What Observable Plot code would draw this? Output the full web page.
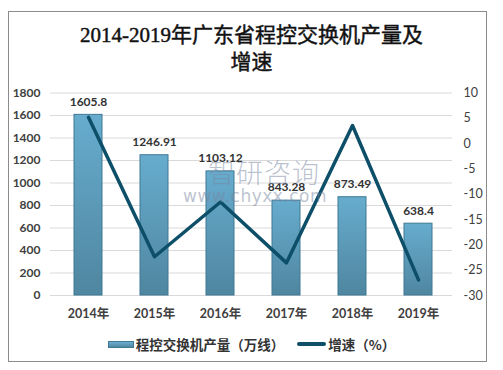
<!DOCTYPE html>
<html><head><meta charset="utf-8">
<script src="https://cdn.jsdelivr.net/npm/d3@7"></script>
<script src="https://cdn.jsdelivr.net/npm/@observablehq/plot@0.6"></script>
<style>
body{margin:0;background:#fff;}
#wrap{position:relative;width:503px;height:370px;overflow:hidden;font-family:Lato,"Noto Sans CJK SC",sans-serif;}
#frame{position:absolute;left:8px;top:11px;width:479px;height:351px;border:1px solid #8c8c8c;box-sizing:border-box;}
#title{position:absolute;left:0;width:503px;top:22px;text-align:center;font-family:"Liberation Serif","Noto Sans CJK SC",serif;font-weight:400;-webkit-text-stroke:0.45px #111;font-size:21px;line-height:27px;color:#111;}
#chart{position:absolute;left:0;top:0;}
#wm1{position:absolute;left:208px;top:152px;font-family:"Noto Sans CJK SC",sans-serif;font-weight:300;font-size:27px;color:rgba(120,134,160,0.5);letter-spacing:1px;}
#wm2{position:absolute;left:183px;top:186px;font-family:"DejaVu Sans",sans-serif;font-size:17px;color:rgba(120,134,160,0.5);letter-spacing:0.5px;}
#legend{position:absolute;top:334px;left:0;width:503px;display:flex;justify-content:center;align-items:center;font-family:"Noto Sans CJK SC",sans-serif;font-weight:700;font-size:13.5px;color:#333;}
.sw1{width:26px;height:7px;background:linear-gradient(#6db0d2,#4f86a0);border:1px solid #3f7893;box-sizing:border-box;margin-right:2px;}
.sw2{width:29px;height:4px;background:#0d4f68;border-radius:2px;margin-right:2px;margin-left:13px;}
</style></head>
<body>
<div id="wrap">
  <div id="frame"></div>
  <div id="title">2014-2019年广东省程控交换机产量及<br>增速</div>
  <div id="chart"></div>
  <div id="wm1">智研咨询</div>
  <div id="wm2">www.chyxx.com</div>
  <div id="legend"><div class="sw1"></div><span>程控交换机产量（万线）</span><div class="sw2"></div><span>增速（%）</span></div>
</div>
<script>
const years = ["2014年","2015年","2016年","2017年","2018年","2019年"];
const output = [1605.8, 1246.91, 1103.12, 843.28, 873.49, 638.4];
const growth = [5.2, -22.35, -11.53, -23.55, 3.58, -26.91];
const leftTicks = [0,200,400,600,800,1000,1200,1400,1600,1800];
const rightTicks = [-30,-25,-20,-15,-10,-5,0,5,10];

const k = 1800 / 40; // right axis (-30..10) mapped onto left scale (0..1800)
const toLeft = g => (g + 30) * k;
const rows = years.map((y, i) => ({year: y, output: output[i], growth: growth[i]}));

const chart = Plot.plot({
  width: 503, height: 370,
  marginTop: 92.5, marginBottom: 75, marginLeft: 50, marginRight: 51,
  style: {background: "transparent", color: "#404040", fontFamily: "Lato, 'Noto Sans CJK SC', sans-serif"},
  x: {domain: years, paddingInner: 0.58, paddingOuter: 0.29, insetLeft: 4, insetRight: 1, label: null},
  y: {domain: [0, 1800], label: null},
  marks: [
    Plot.gridY(leftTicks, {stroke: "#d9d9d9", strokeOpacity: 1}),
    Plot.axisY(leftTicks, {anchor: "left", tickSize: 0, tickPadding: 10, fontSize: 12, fontWeight: 700, label: null,
      tickFormat: v => String(v)}),
    Plot.axisY(rightTicks.map(toLeft), {anchor: "right", tickSize: 0, tickPadding: 11, fontSize: 12.5, label: null,
      tickFormat: v => String(Math.round(v / k - 30))}),
    Plot.axisX({tickSize: 0, tickPadding: 14, fontSize: 12.5, fontWeight: 700, label: null}),
    Plot.barY(rows, {x: "year", y: "output", fill: "url(#barGrad)", stroke: "#3f7893", strokeWidth: 1}),
    Plot.text(rows, {x: "year", y: "output", text: d => String(d.output), dy: -13, fontSize: 12, fontWeight: 700, fill: "#333"}),
    Plot.line(rows, {x: "year", y: d => toLeft(d.growth), stroke: "#0d4f68", strokeWidth: 3.5})
  ]
});

const defs = d3.select(chart).insert("defs", ":first-child");
const grad = defs.append("linearGradient").attr("id", "barGrad").attr("x1", 0).attr("y1", 0).attr("x2", 0).attr("y2", 1);
grad.append("stop").attr("offset", 0).attr("stop-color", "#67acce");
grad.append("stop").attr("offset", 1).attr("stop-color", "#4f86a0");

document.getElementById("chart").appendChild(chart);
</script>
</body></html>
